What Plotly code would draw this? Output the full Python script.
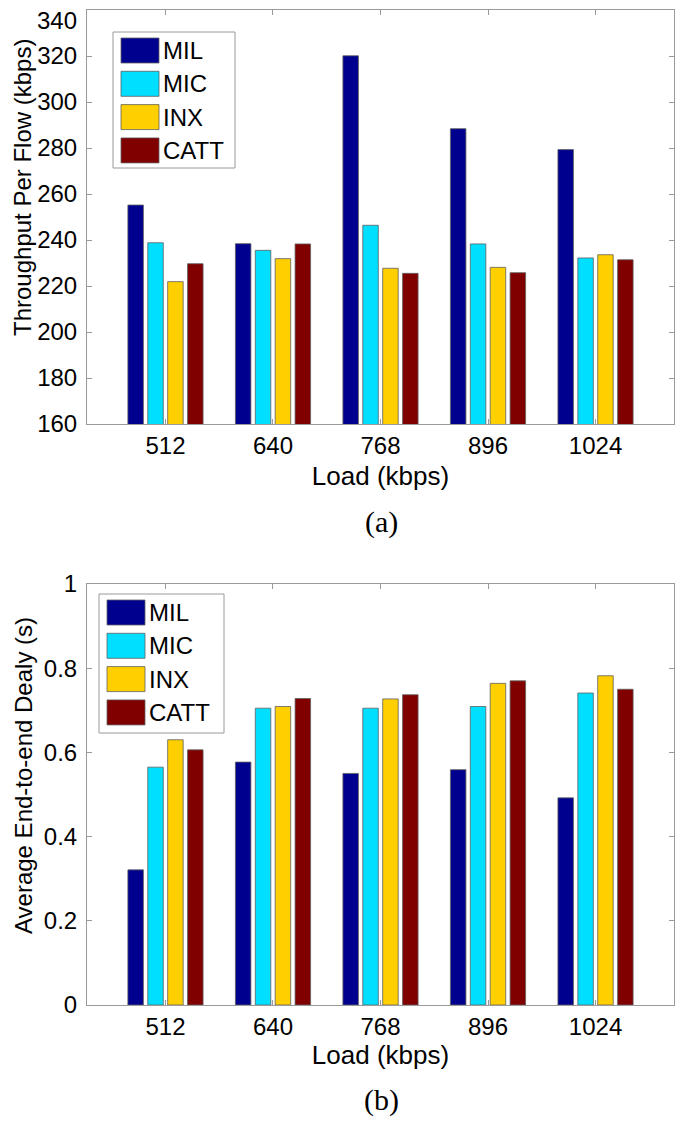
import plotly.graph_objects as go
from plotly.subplots import make_subplots

# data
loads = ["512", "640", "768", "896", "1024"]
series = ["MIL", "MIC", "INX", "CATT"]
colors = ["#00008F", "#00DFFF", "#FFCF00", "#800000"]

throughput_mil = [255.2, 238.4, 320.1, 288.4, 279.3]
throughput_mic = [238.8, 235.5, 246.4, 238.3, 232.2]
throughput_inx = [221.9, 231.9, 227.7, 228.1, 233.6]
throughput_catt = [229.7, 238.3, 225.5, 225.8, 231.4]

delay_mil = [0.321, 0.577, 0.550, 0.559, 0.492]
delay_mic = [0.565, 0.705, 0.705, 0.709, 0.741]
delay_inx = [0.630, 0.709, 0.727, 0.764, 0.782]
delay_catt = [0.606, 0.728, 0.737, 0.770, 0.750]

throughput_ticks = [160, 180, 200, 220, 240, 260, 280, 300, 320, 340]
delay_ticks = [0, 0.2, 0.4, 0.6, 0.8, 1]

throughput = [throughput_mil, throughput_mic, throughput_inx, throughput_catt]
delay = [delay_mil, delay_mic, delay_inx, delay_catt]

# page has an 8px body margin, so the figure is drawn 8px smaller and offset
OFF = 8
W, H = 685 - OFF, 1128 - OFF
PLOT_L, PLOT_R, PLOT_T, PLOT_B = 87, 674, 10, 1005  # in page pixels
L, T = PLOT_L - OFF, PLOT_T - OFF
R, B = W - (PLOT_R - OFF), H - (PLOT_B - OFF)
PW = PLOT_R - PLOT_L
PH = PLOT_B - PLOT_T


def px(x):
    return (x - PLOT_L) / PW


def py(y):
    return (PLOT_B - y) / PH


fig = make_subplots(rows=2, cols=1)

for i, name in enumerate(series):
    fig.add_trace(go.Bar(x=loads, y=throughput[i], name=name, marker_color=colors[i],
                         marker_line=dict(color="#606060", width=0.8), showlegend=False),
                  row=1, col=1)
    fig.add_trace(go.Bar(x=loads, y=delay[i], name=name, marker_color=colors[i],
                         marker_line=dict(color="#606060", width=0.8), showlegend=False),
                  row=2, col=1)

font = "Liberation Sans, Arial, sans-serif"
axis_style = dict(showline=True, linecolor="#9a9a9a", linewidth=1, mirror="ticks",
                  ticks="inside", ticklen=5, tickcolor="#9a9a9a", showgrid=False,
                  zeroline=False, automargin=False, ticklabeloverflow="allow",
                  tickfont=dict(family=font, size=24, color="black"))

fig.update_xaxes(**axis_style, range=[-0.73, 4.73])
fig.update_xaxes(row=1, col=1, title=dict(text="Load (kbps)", standoff=9,
                                          font=dict(family=font, size=26, color="black")))
fig.update_xaxes(row=2, col=1, title=dict(text="Load (kbps)", standoff=4,
                                          font=dict(family=font, size=26, color="black")))
fig.update_yaxes(**axis_style, ticklabelstandoff=4)
# the top label "340" would be clipped by the page edge, so it is placed as an annotation
fig.update_yaxes(row=1, col=1, range=[160, 340], domain=[py(424), py(10)],
                 tickvals=throughput_ticks,
                 ticktext=[str(v) for v in throughput_ticks[:-1]] + [""])
fig.update_yaxes(row=2, col=1, range=[0, 1], domain=[py(1005), py(584)],
                 tickvals=delay_ticks, ticktext=[f"{v:g}" for v in delay_ticks])
fig.add_annotation(xref="paper", yref="paper", x=px(79), y=py(20), text=str(throughput_ticks[-1]),
                   showarrow=False, xanchor="right", yanchor="middle",
                   font=dict(family=font, size=24, color="black"))

# y axis titles
for text, ycen in [("Throughput Per Flow (kbps)", 188), ("Average End-to-end Dealy (s)", 776)]:
    fig.add_annotation(xref="paper", yref="paper", x=px(23), y=py(ycen), text=text,
                       textangle=-90, showarrow=False, xanchor="center", yanchor="middle",
                       font=dict(family=font, size=24, color="black"))

# legends drawn as boxes with big swatches (page pixel coordinates)
legend_boxes = [(113, 235, 32, 168), (99, 224, 594, 733)]
for bx0, bx1, by0, by1 in legend_boxes:
    fig.add_shape(type="rect", xref="paper", yref="paper",
                  x0=px(bx0), x1=px(bx1), y0=py(by1), y1=py(by0),
                  line=dict(color="#9a9a9a", width=1), fillcolor="white", layer="above")
    for i, name in enumerate(series):
        top = by0 + 6 + 33.3 * i
        fig.add_shape(type="rect", xref="paper", yref="paper",
                      x0=px(bx0 + 8), x1=px(bx0 + 46), y0=py(top + 25), y1=py(top),
                      line=dict(color="#606060", width=0.8), fillcolor=colors[i], layer="above")
        fig.add_annotation(xref="paper", yref="paper", x=px(bx0 + 48), y=py(top + 12.5),
                           text=name, showarrow=False, xanchor="left", yanchor="middle",
                           font=dict(family=font, size=24, color="black"))

for label, ycen in [("(a)", 522), ("(b)", 1100)]:
    fig.add_annotation(xref="paper", yref="paper", x=px(382), y=py(ycen), text=label,
                       showarrow=False, yanchor="middle",
                       font=dict(family="Liberation Serif, Times New Roman, serif", size=30,
                                 color="black"))

fig.update_layout(width=W, height=H, margin=dict(l=L, r=R, t=T, b=B, autoexpand=False),
                  barmode="group", bargap=0.26, bargroupgap=0.22,
                  plot_bgcolor="white", paper_bgcolor="white")

fig.write_html("out.html")
